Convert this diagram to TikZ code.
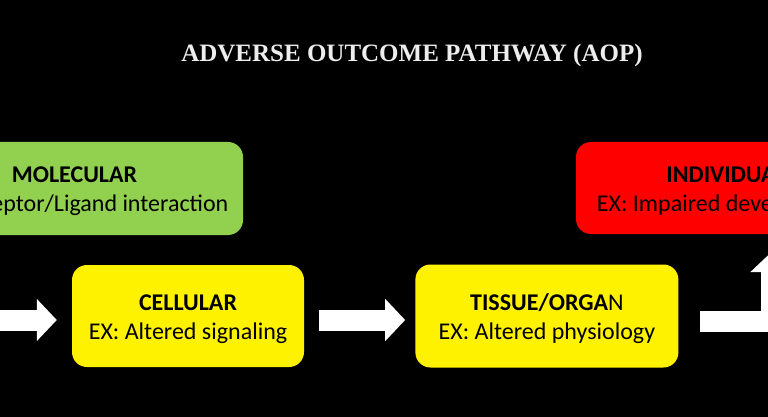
\documentclass[tikz,border=0pt]{standalone}
\usepackage{fontspec}
\setmainfont{Carlito}
\newfontfamily\headfont{Liberation Serif}
\usepackage{xcolor}
\usetikzlibrary{positioning,shapes,arrows.meta}

\definecolor{molgreen}{HTML}{92D050}

\begin{document}
\begin{tikzpicture}[x=1pt,y=-1pt,node distance=111pt,
                    font=\fontsize{24}{29}\selectfont]
  \tikzstyle{level}=[draw=none,rounded corners=15pt,align=center,text=black,
                     text height=52pt,text depth=6pt,inner sep=0pt]
  \tikzstyle{flow}=[draw=white,line width=21pt,line join=miter,
                    -{Triangle[length=20pt,width=41pt]}]

  \useasboundingbox (0,0) rectangle (768,417);
  \fill[black] (0,0) rectangle (768,417);
  \clip (0,0) rectangle (768,417);

  \node (H) at (412,55) {\headfont\fontsize{25}{30}\selectfont\bfseries\color{white!93!black}ADVERSE OUTCOME PATHWAY (AOP)};

  \node[level,fill=molgreen,minimum width=337pt,minimum height=93pt] (M) at (74.5,188.5)
       {\textbf{MOLECULAR}\\EX: Receptor/Ligand interaction};
  \node[level,fill=yellow,minimum width=232pt,minimum height=102pt] (C) at (188,316)
       {\textbf{CELLULAR}\\EX: Altered signaling};
  \node[level,fill=yellow,minimum width=263pt,minimum height=103pt,right=of C] (T)
       {\textbf{TISSUE/ORGA}N\\EX: Altered physiology};
  \node[level,fill=red,minimum width=300pt,minimum height=92pt] (I) at (726,188)
       {\textbf{INDIVIDUAL}\\EX: Impaired development};

  \coordinate (in) at (-30,320);
  \coordinate (up) at (771.5,234);

  \path (in) edge[flow,shorten >=15pt] ([yshift=-4pt]C.west)
        ([yshift=-4pt]C.east) edge[flow,shorten <=15pt,shorten >=10pt] ([yshift=-4pt]T.west);
  \draw[flow,shorten <=21pt,shorten >=18pt] ([yshift=-5pt]T.east) -| (up);
\end{tikzpicture}
\end{document}
